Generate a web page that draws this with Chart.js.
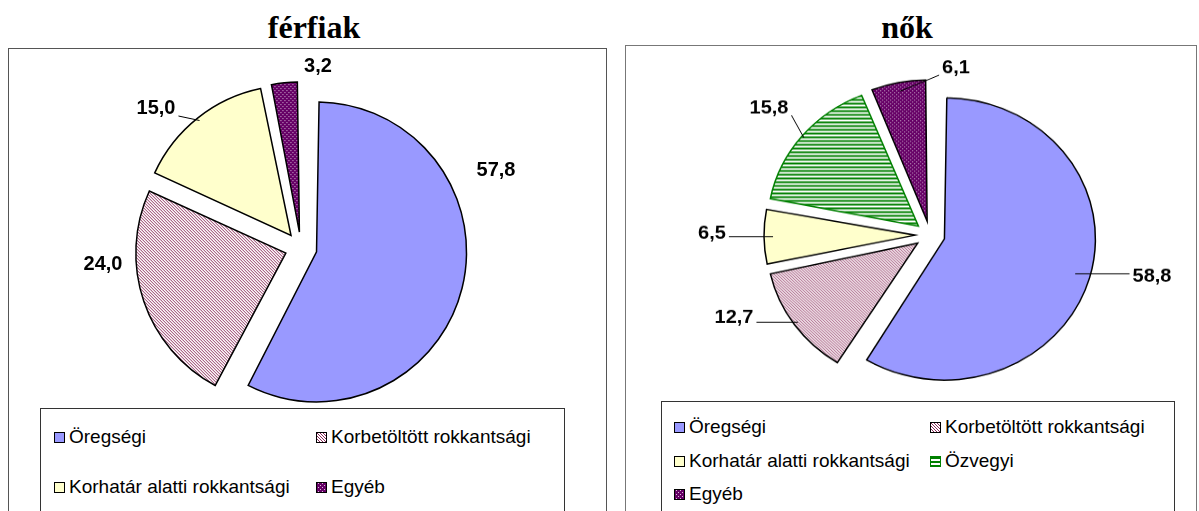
<!DOCTYPE html>
<html>
<head>
<meta charset="utf-8">
<script src="https://cdn.jsdelivr.net/npm/chart.js@4.4.1/dist/chart.umd.min.js"></script>
<style>
  body { margin: 0; background: #fff; }
  #page { position: relative; width: 1199px; height: 511px; overflow: hidden; font-family: "Liberation Sans", Arial, sans-serif; }
  .title { position: absolute; top: 11px; width: 200px; text-align: center; font: bold 32px/32px "Liberation Serif", "Times New Roman", serif; }
  .panel { position: absolute; height: 520px; box-sizing: border-box; border: 1px solid #555; background: #fff; }
  .legend { position: absolute; height: 140px; box-sizing: border-box; border: 1px solid #333; background: #fff; }
  .item { position: absolute; font-size: 19px; line-height: 20px; white-space: nowrap; }
  .sw { position: absolute; top: 5px; left: -15px; width: 9px; height: 9px; border: 1px solid #000; }
  canvas { position: absolute; }
</style>
</head>
<body>
<div id="page">
  <div class="panel" style="left:8px;top:48px;width:599px"></div>
  <div class="panel" style="left:625px;top:45px;width:572px;border-color:#777"></div>
  <div class="title" style="left:214px">férfiak</div>
  <div class="title" style="left:807px">nők</div>
  <canvas id="men" width="480" height="400" style="left:61px;top:48px"></canvas>
  <canvas id="women" width="520" height="400" style="left:670px;top:35px;transform:scaleY(0.935)"></canvas>
  <div class="legend" id="legMen" style="left:40px;top:408px;width:525px"></div>
  <div class="legend" id="legWomen" style="left:661px;top:401px;width:514px"></div>
</div>
<script>
// share of new pensions by type, percent
const menLabels = ["Öregségi", "Korbetöltött rokkantsági", "Korhatár alatti rokkantsági", "Egyéb"];
const menValues = [57.8, 24.0, 15.0, 3.2];

const womenLabels = ["Öregségi", "Korbetöltött rokkantsági", "Korhatár alatti rokkantsági", "Özvegyi", "Egyéb"];
const womenValues = [58.8, 12.7, 6.5, 15.8, 6.1];

// small tiles used as fill patterns
function tile(w, h, paint) {
  const c = document.createElement("canvas");
  c.width = w;
  c.height = h;
  paint(c.getContext("2d"));
  return c;
}

const tiles = {
  "Korbetöltött rokkantsági": tile(3, 3, g => {
    g.fillStyle = "#fff"; g.fillRect(0, 0, 3, 3);
    g.fillStyle = "#8c2a5a";
    for (let i = 0; i < 3; i++) g.fillRect(i, i, 1, 1);
  }),
  "Özvegyi": tile(4, 4, g => {
    g.fillStyle = "#fff"; g.fillRect(0, 0, 4, 4);
    g.fillStyle = "#008000"; g.fillRect(0, 0, 4, 2);
  }),
  "Egyéb": tile(4, 4, g => {
    g.fillStyle = "#660066"; g.fillRect(0, 0, 4, 4);
    g.fillStyle = "#d8c0d8"; g.fillRect(1, 0, 1, 1); g.fillRect(3, 2, 1, 1);
  }),
};
const solids = { "Öregségi": "#9999ff", "Korhatár alatti rokkantsági": "#ffffcc" };
const edges = { "Özvegyi": "#008000" };

function fillFor(ctx, name) {
  return tiles[name] ? ctx.createPattern(tiles[name], "repeat") : solids[name];
}

// Chart.js grows exploded arcs by offset/4 * fix; take it back so all slices keep one radius
const explode = {
  id: "explode",
  afterDatasetUpdate(chart, args) {
    const q = (chart.data.datasets[args.index].offset || 0) / 4;
    args.meta.data.forEach(arc => {
      const fix = 1 - Math.sin(Math.min(Math.PI, arc.circumference));
      arc.outerRadius -= q * fix;
    });
  }
};

// value labels with optional leader lines
const valueLabels = {
  id: "valueLabels",
  afterDatasetsDraw(chart, args, opts) {
    const ctx = chart.ctx;
    const ds = chart.data.datasets[0];
    const shift = (ds.offset || 0) / 4;
    ctx.save();
    ctx.font = 'bold 20px "Liberation Sans", Arial, sans-serif';
    ctx.textAlign = "center";
    ctx.textBaseline = "middle";
    chart.getDatasetMeta(0).data.forEach((arc, i) => {
      const mid = (arc.startAngle + arc.endAngle) / 2;
      const ex = arc.x + Math.cos(mid) * (shift + arc.outerRadius);
      const ey = arc.y + Math.sin(mid) * (shift + arc.outerRadius);
      const lx = arc.x + opts.pos[i][0];
      const ly = arc.y + opts.pos[i][1];
      const txt = ds.data[i].toFixed(1).replace(".", ",");
      const w = ctx.measureText(txt).width;
      ctx.fillStyle = "#000";
      ctx.fillText(txt, lx, ly + 1);
      if (opts.leader[i]) {
        const bx = Math.max(lx - w / 2 - 3, Math.min(ex, lx + w / 2 + 3));
        const by = Math.max(ly - 10, Math.min(ey, ly + 9));
        ctx.beginPath();
        ctx.moveTo(bx, by);
        ctx.lineTo(ex, ey);
        ctx.lineWidth = 1;
        ctx.strokeStyle = "#000";
        ctx.stroke();
      }
    });
    ctx.restore();
  }
};

function pie(id, labels, values, radius, offset, pos, leader) {
  const canvas = document.getElementById(id);
  const ctx = canvas.getContext("2d");
  return new Chart(canvas, {
    type: "pie",
    data: {
      labels,
      datasets: [{
        data: values,
        backgroundColor: labels.map(l => fillFor(ctx, l)),
        borderColor: labels.map(l => edges[l] || "#000"),
        borderWidth: 1.5,
        borderJoinStyle: "miter",
        offset: offset * 4,
        radius,
      }],
    },
    options: {
      responsive: false,
      animation: false,
      events: [],
      layout: { padding: 0 },
      plugins: {
        legend: { display: false },
        tooltip: { enabled: false },
        valueLabels: { pos, leader },
      },
    },
    plugins: [explode, valueLabels],
  });
}

pie("men", menLabels, menValues, 150, 16,
  [[195, -79], [-198, 15], [-145, -141], [17, -183]],
  [false, false, true, false]);

pie("women", womenLabels, womenValues, 151, 15,
  [[222, 43], [-196, 87], [-218, -3], [-161, -137], [26, -180]],
  [true, true, true, true, true]);

// legends drawn as html boxes
function legend(id, labels, cols, rows) {
  const box = document.getElementById(id);
  labels.forEach((l, i) => {
    const item = document.createElement("div");
    item.className = "item";
    item.style.left = cols[i % 2] + "px";
    item.style.top = rows[Math.floor(i / 2)] - 10 + "px";
    const sw = document.createElement("span");
    sw.className = "sw";
    sw.style.background = tiles[l] ? `url(${tiles[l].toDataURL()})` : solids[l];
    sw.style.borderColor = edges[l] || "#000";
    item.appendChild(sw);
    item.appendChild(document.createTextNode(l));
    box.appendChild(item);
  });
}

legend("legMen", menLabels, [28, 290], [28, 78]);
legend("legWomen", womenLabels, [27, 283], [25, 59, 92]);
</script>
</body>
</html>
